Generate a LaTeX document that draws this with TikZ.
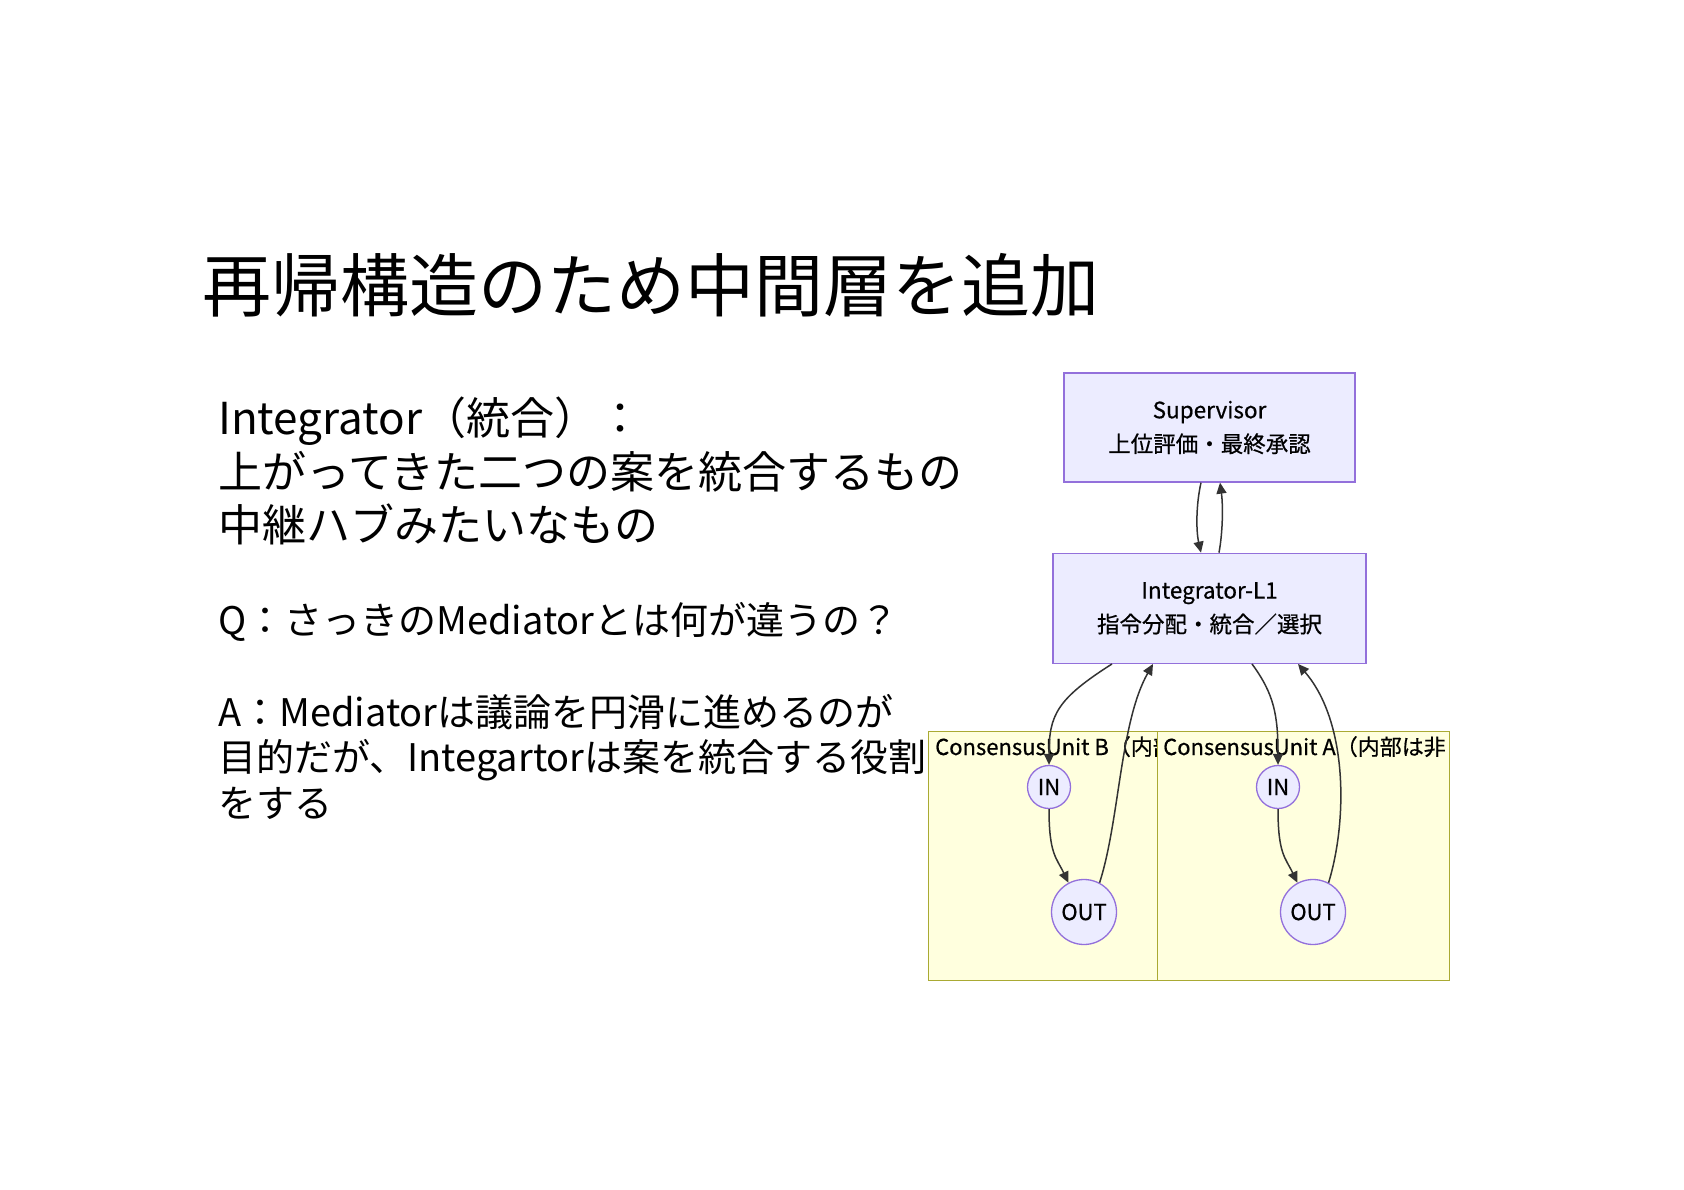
\documentclass[tikz,border=0pt]{standalone}
\usepackage{fontspec}
\setmainfont{Noto Sans CJK JP}
\newfontfamily\diagfont{Noto Sans CJK JP}[FakeBold=0.6]
\usepackage{tikz}
\usetikzlibrary{arrows.meta,positioning}
\definecolor{nodefill}{HTML}{ECECFF}
\definecolor{nodeline}{HTML}{9370DB}
\definecolor{unitfill}{HTML}{FFFFDE}
\definecolor{unitline}{HTML}{AAAA33}
\definecolor{edgegray}{HTML}{333333}

\begin{document}
\begin{tikzpicture}[
                x=1pt, y=-1pt,
                node distance=70pt,
                slide/.style={anchor=base west, inner sep=0pt, font=\fontsize{44}{53}\selectfont},
                qa/.style={slide, font=\fontsize{38}{46}\selectfont},
                block/.style={draw=nodeline, fill=nodefill, line width=1.3pt, align=center,
                              font=\diagfont\fontsize{22.5}{34}\selectfont},
                port/.style={circle, draw=nodeline, fill=nodefill, line width=1.3pt,
                             inner sep=0pt, font=\diagfont\fontsize{22}{26}\selectfont},
                unit/.style={draw=unitline, fill=unitfill, line width=1.3pt,
                             anchor=north west, inner sep=0pt, minimum height=249pt},
                unitlabel/.style={anchor=base west, inner sep=0pt, font=\diagfont\fontsize{22}{26}\selectfont},
                edge/.style={draw=edgegray, line width=1.5pt, -{Triangle[length=11pt,width=10pt]}}
            ]
            \fill[white] (0,0) rectangle (1684,1190);
            \useasboundingbox (0,0) rectangle (1684,1190);
            \node[anchor=base west, inner sep=0pt, font=\fontsize{69}{80}\selectfont] (title) at (202,312) {再帰構造のため中間層を追加};
            \node[slide] (line1) at (218,434) {Integrator（統合）：};
            \node[slide] (line2) at (218,488) {上がってきた二つの案を統合するもの};
            \node[slide] (line3) at (218,541) {中継ハブみたいなもの};
            \node[qa] (question) at (218,634) {Q：さっきのMediatorとは何が違うの？};
            \node[qa] (answer1) at (218,726) {A：Mediatorは議論を円滑に進めるのが};
            \node[qa] (answer2) at (218,771) {目的だが、Integartorは案を統合する役割};
            \node[qa] (answer3) at (218,817) {をする};

            \node[block, minimum width=291pt, minimum height=109pt] (sup) at (1209.5,427.5) {Supervisor\\上位評価・最終承認};
            \node[block, minimum width=313pt, minimum height=110pt, below=of sup] (intg) {Integrator-L1\\指令分配・統合／選択};

            \node[unit, minimum width=229pt] (unitB) at (928,731) {};
            \node[unitlabel] (labelB) at ([xshift=7pt, yshift=-24pt]unitB.north west) {ConsensusUnit B（内部};
            \node[unit, minimum width=292pt] (unitA) at (1157,731) {};
            \begin{scope}
                \clip (unitA.north west) rectangle (unitA.south east);
                \node[unitlabel] (labelA) at ([xshift=6pt, yshift=-24pt]unitA.north west) {ConsensusUnit A（内部は非};
            \end{scope}

            \node[port, minimum size=43pt] (inB) at (1049,787) {IN};
            \node[port, minimum size=65pt] (outB) at (1084,912) {OUT};
            \node[port, minimum size=43pt] (inA) at (1278,787) {IN};
            \node[port, minimum size=65pt] (outA) at (1313,912) {OUT};

            \draw[edge] ([xshift=-8.5pt]sup.south) .. controls +(-5,22) and +(-5,-22) .. ([xshift=-8.5pt]intg.north);
            \draw[edge] ([xshift=9.5pt]intg.north) .. controls +(4,-22) and +(3,22) .. ([xshift=10.5pt]sup.south);
            \draw[edge] ([xshift=-97.5pt]intg.south) .. controls +(-55,35) and +(0,-50) .. (inB.north);
            \draw[edge] (inB.south) .. controls +(0,45) and +(-12,-25) .. (outB.118);
            \draw[edge] (outB.62) .. controls +(20,-62) and +(-33,58) .. ([xshift=-56.5pt]intg.south);
            \draw[edge] ([xshift=42.5pt]intg.south) .. controls +(22,30) and +(0,-50) .. (inA.north);
            \draw[edge] (inA.south) .. controls +(0,45) and +(-12,-25) .. (outA.118);
            \draw[edge] (outA.62) .. controls +(19,-62) and +(50,58) .. ([xshift=88.5pt]intg.south);
            \end{tikzpicture}
\end{document}
